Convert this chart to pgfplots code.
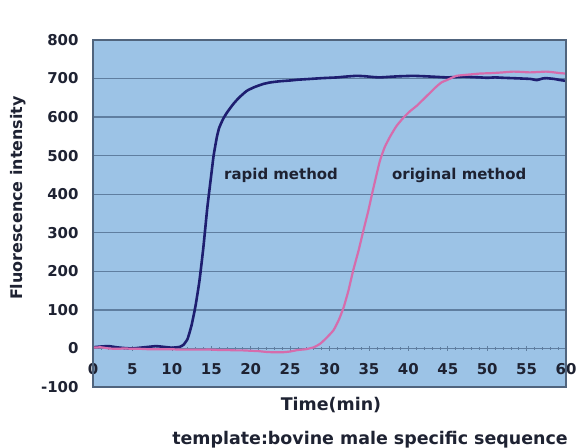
\documentclass[border=0pt]{standalone}
\usepackage{fontspec}
\setmainfont{DejaVu Sans}
\usepackage{pgfplots}
\pgfplotsset{compat=1.18}
\definecolor{bgblue}{RGB}{156,195,230}
\definecolor{gridc}{RGB}{95,126,160}
\definecolor{borderc}{RGB}{80,100,125}
\definecolor{navy}{RGB}{30,30,112}
\definecolor{pinkc}{RGB}{214,108,172}
\definecolor{txt}{RGB}{30,34,50}
\pgfplotstableread{
t v
0 3
1 5
2 6
3 3
4 1
5 0
6 2
7 4
8 6
9 4
10 2
11 4
11.5 10
12 25
12.5 60
13 110
13.5 175
14 262
14.5 365
15 450
15.3 500
15.7 547
16 572
16.5 595
17 612
17.8 634
18.5 650
19.5 668
20.5 678
21.6 686
22.5 690
23.7 693
25 695
26 697
27.5 699
29 701
30 702
31 703
32 705
33.4 707
34.5 706
35.5 704
36.4 703
38 705
39 706
40.6 707
42 706
43 705
44.9 703
46 704
47 705
48 704
49.1 703
50 702
51 703
52 702
53.3 701
54.5 700
55.5 699
56.3 696
57 700
57.5 701
58.5 699
59.3 696
60 694
}\rapid
\pgfplotstableread{
t v
0 2
1 3
2 0
3 -1
4 0
5 -1
6 -1
7 -2
8 -2
9 -2
10 -2
11 -3
12 -3
13 -3
14 -3
15 -3
16 -4
17 -4
18 -5
19 -5
20 -6
21 -7
22 -9
23 -10
24 -10
25 -8
26 -4
27 -2
28 3
28.8 12
29.5 25
30.5 47
31.2 75
31.8 107
32.4 150
33.0 202
33.7 255
34.3 306
34.9 355
35.4 401
35.9 445
36.4 487
37 522
37.7 550
38.5 577
39.4 599
40.2 615
41.1 630
42 648
42.8 664
43.5 678
44.2 690
45 697
46.1 707
47.5 710
49.1 713
50.5 714
52 716
53.3 718
54.5 717
55.4 716
56.5 717
57.5 718
58.5 716
59.3 714
60 713
}\original
\begin{document}
\begin{tikzpicture}[x=1bp,y=1bp]
\useasboundingbox (0,0) rectangle (587,-448);
\begin{axis}[
  at={(93bp,-387bp)}, anchor=south west,
  width=473bp, height=347bp, scale only axis,
  xmin=0, xmax=60, ymin=-100, ymax=800,
  clip=false,
  axis background/.style={fill=bgblue},
  axis x line*=middle, axis y line*=left,
  x axis line style={gridc, line width=1bp},
  y axis line style={borderc, line width=1.2bp},
  xtick={0,5,...,60}, minor x tick num=4,
  xtick align=center,
  major tick length=5bp, minor tick length=3bp,
  x tick style={gridc, line width=0.6bp},
  ytick={-100,0,...,800},
  y tick style={draw=none},
  hide obscured x ticks=false,
  ymajorgrids, grid style={gridc, line width=1.3bp},
  /pgf/number format/assume math mode=true,
  tick label style={font=\bfseries\fontsize{15}{17}\selectfont, text=txt},
  xticklabel style={yshift=-9bp},
  yticklabel style={xshift=-11bp},
]
\addplot[navy, line width=2.6bp, smooth, tension=0.3] table[x=t,y=v] {\rapid};
\addplot[pinkc, line width=2.2bp, smooth, tension=0.3] table[x=t,y=v] {\original};
\node[anchor=west, font=\bfseries\fontsize{15}{17}\selectfont, text=txt] at (axis cs:16.2,448) {rapid method};
\node[anchor=west, font=\bfseries\fontsize{15}{17}\selectfont, text=txt] at (axis cs:37.5,448) {original method};
\draw[borderc, line width=1.2bp] (rel axis cs:0,0) rectangle (rel axis cs:1,1);
\end{axis}
\node[font=\bfseries\fontsize{17.5}{19}\selectfont, text=txt] at (331,-405) {Time(min)};
\node[font=\bfseries\fontsize{17.5}{19}\selectfont, text=txt] at (370,-440) {template:bovine male specific sequence};
\node[rotate=90, font=\bfseries\fontsize{16}{18}\selectfont, text=txt] at (18,-198) {Fluorescence intensity};
\end{tikzpicture}
\end{document}
